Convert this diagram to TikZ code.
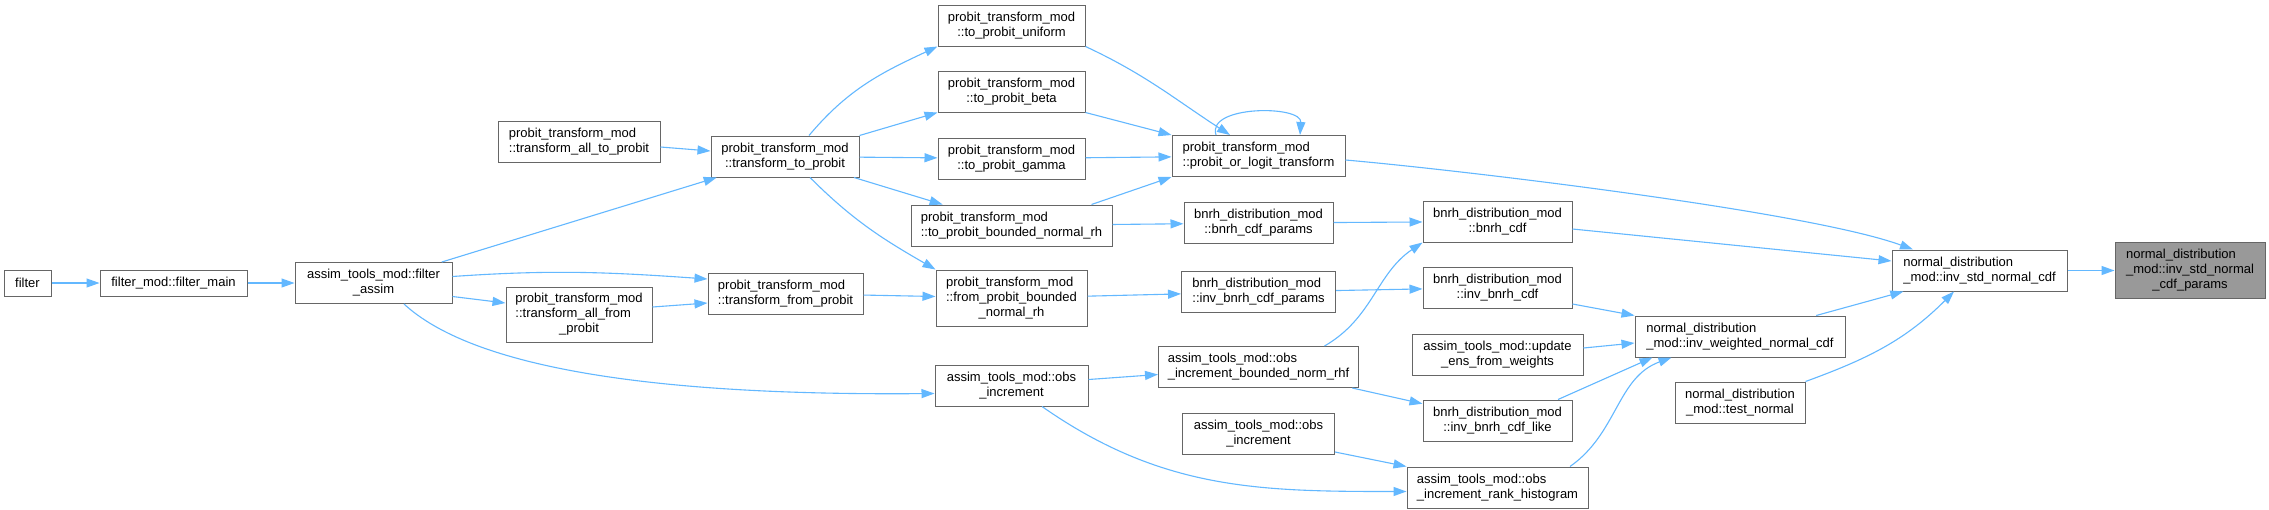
\documentclass[tikz,border=0pt]{standalone}
\usepackage{fontspec}
\setmainfont{Liberation Sans}
\usetikzlibrary{arrows.meta, positioning}

\definecolor{boxgray}{HTML}{666666}
\definecolor{focusgray}{HTML}{999999}
\definecolor{callblue}{HTML}{63B8FF}

%% graphviz style labels: all lines but the last flush left
\newsavebox\lblboxa
\newsavebox\lblboxb
\newsavebox\lblboxc
\newlength\lblwd
\newcommand\lbl[2]{%
  \setbox\lblboxa\hbox{#1}%
  \setbox\lblboxb\hbox{#2}%
  \lblwd=\wd\lblboxa\relax
  \ifdim\wd\lblboxb>\lblwd\lblwd=\wd\lblboxb\relax\fi
  \vbox{\baselineskip=15pt\lineskiplimit=-100pt
    \hbox to\lblwd{\unhcopy\lblboxa\hfil}%
    \hbox to\lblwd{\hfil\unhcopy\lblboxb\hfil}}}
\newcommand\lbll[3]{%
  \setbox\lblboxa\hbox{#1}%
  \setbox\lblboxb\hbox{#2}%
  \setbox\lblboxc\hbox{#3}%
  \lblwd=\wd\lblboxa\relax
  \ifdim\wd\lblboxb>\lblwd\lblwd=\wd\lblboxb\relax\fi
  \ifdim\wd\lblboxc>\lblwd\lblwd=\wd\lblboxc\relax\fi
  \vbox{\baselineskip=15pt\lineskiplimit=-100pt
    \hbox to\lblwd{\unhcopy\lblboxa\hfil}%
    \hbox to\lblwd{\unhcopy\lblboxb\hfil}%
    \hbox to\lblwd{\hfil\unhcopy\lblboxc\hfil}}}

\begin{document}
\begin{tikzpicture}[
  x=1pt, y=-1pt,
  node distance=24pt,
  >={Triangle[length=13pt,width=9pt]},
  func/.style={
    rectangle, draw=boxgray, fill=white,
    minimum height=41pt,
    font=\fontsize{13}{15}\selectfont,
    inner sep=1pt,
    line width=1pt
  },
  focus/.style={
    func,
    fill=focusgray,
    minimum height=56pt
  },
  arrow/.style={->, draw=callblue, line width=1.1pt}
]

\fill[white] (0,0) rectangle (2269,509);
\useasboundingbox (0,0) rectangle (2269,509);

%% Entry chain
\node[func, minimum height=26pt, minimum width=47pt] at (27.5,283) (filter) {filter};
\node[func, minimum height=26pt, minimum width=147pt, right=48pt of filter] (filtermain)
  {filter\_mod::filter\_main};
\node[func, minimum width=157pt, right=47pt of filtermain] (filterassim)
  {\lbl{assim\_tools\_mod::filter}{\_assim}};

%% Transform wrappers
\node[func, minimum width=162pt] at (579,141.5) (alltoprobit)
  {\lbl{probit\_transform\_mod}{::transform\_all\_to\_probit}};
\node[func, minimum width=146pt, minimum height=55pt] at (579,314.5) (allfromprobit)
  {\lbll{probit\_transform\_mod}{::transform\_all\_from}{\_probit}};
\node[func, minimum width=148pt] at (785,156.5) (toprobit)
  {\lbl{probit\_transform\_mod}{::transform\_to\_probit}};
\node[func, minimum width=155pt] at (785.5,293.5) (fromprobit)
  {\lbl{probit\_transform\_mod}{::transform\_from\_probit}};

%% --- Per-distribution column ---
\node[func, minimum width=147pt] at (1011.5,25.5) (uniform)
  {\lbl{probit\_transform\_mod}{::to\_probit\_uniform}};
\node[func, minimum width=147pt, below=24pt of uniform] (beta)
  {\lbl{probit\_transform\_mod}{::to\_probit\_beta}};
\node[func, minimum width=147pt, below=25pt of beta] (gamma)
  {\lbl{probit\_transform\_mod}{::to\_probit\_gamma}};
\node[func, minimum width=201pt, below=25pt of gamma] (boundedrh)
  {\lbl{probit\_transform\_mod}{::to\_probit\_bounded\_normal\_rh}};
\node[func, minimum width=151pt, minimum height=56pt, below=23pt of boundedrh] (frombounded)
  {\lbll{probit\_transform\_mod}{::from\_probit\_bounded}{\_normal\_rh}};
\node[func, minimum width=153pt, below=38pt of frombounded] (obsinc)
  {\lbl{assim\_tools\_mod::obs}{\_increment}};

%% --- Probit / bnrh column ---
\node[func, minimum width=173pt] at (1258.5,156) (pologit)
  {\lbl{probit\_transform\_mod}{::probit\_or\_logit\_transform}};
\node[func, minimum width=149pt, below=25pt of pologit] (cdfparams)
  {\lbl{bnrh\_distribution\_mod}{::bnrh\_cdf\_params}};
\node[func, minimum width=154pt, below=27pt of cdfparams] (invcdfparams)
  {\lbl{bnrh\_distribution\_mod}{::inv\_bnrh\_cdf\_params}};
\node[func, minimum width=200pt, below=33pt of invcdfparams] (bnrhf)
  {\lbl{assim\_tools\_mod::obs}{\_increment\_bounded\_norm\_rhf}};
\node[func, minimum width=152pt, below=25pt of bnrhf] (obsinc2)
  {\lbl{assim\_tools\_mod::obs}{\_increment}};

%% --- bnrh cdf column ---
\node[func, minimum width=149pt] at (1497.5,221.5) (bnrhcdf)
  {\lbl{bnrh\_distribution\_mod}{::bnrh\_cdf}};
\node[func, minimum width=149pt, below=24pt of bnrhcdf] (invbnrhcdf)
  {\lbl{bnrh\_distribution\_mod}{::inv\_bnrh\_cdf}};
\node[func, minimum width=171pt, below=25pt of invbnrhcdf] (updateens)
  {\lbl{assim\_tools\_mod::update}{\_ens\_from\_weights}};
\node[func, minimum width=149pt, below=24pt of updateens] (cdflike)
  {\lbl{bnrh\_distribution\_mod}{::inv\_bnrh\_cdf\_like}};
\node[func, minimum width=181pt, below=25pt of cdflike] (rankhist)
  {\lbl{assim\_tools\_mod::obs}{\_increment\_rank\_histogram}};

%% --- Normal distribution ---
\node[func, minimum width=210pt] at (1740,336.5) (invweighted)
  {\lbl{normal\_distribution}{\_mod::inv\_weighted\_normal\_cdf}};
\node[func, minimum width=130pt, below=24pt of invweighted] (testnormal)
  {\lbl{normal\_distribution}{\_mod::test\_normal}};
\node[func, minimum width=175pt] at (1979.5,270.5) (invstd)
  {\lbl{normal\_distribution}{\_mod::inv\_std\_normal\_cdf}};
\node[focus, minimum width=150pt, right=47pt of invstd] (target)
  {\lbll{normal\_distribution}{\_mod::inv\_std\_normal}{\_cdf\_params}};

%% --- Arrows ---
\draw[arrow] (filter) -- (filtermain);
\draw[arrow] (filtermain) -- (filterassim);
\draw[arrow] (filterassim) -- (toprobit);
\draw[arrow] ([yshift=6.5pt]filterassim.east) to[out=4,in=176] ([yshift=14.5pt]fromprobit.west);
\draw[arrow] ([yshift=-13.5pt]filterassim.east) -- ([yshift=11.5pt]allfromprobit.west);
\draw[arrow] ([xshift=30.5pt]filterassim.south) .. controls (470,365) and (640,396) .. ([yshift=-8pt]obsinc.west);

\draw[arrow] ([yshift=-5.5pt]alltoprobit.east) -- ([yshift=5.5pt]toprobit.west);
\draw[arrow] ([yshift=7.5pt]allfromprobit.east) -- ([yshift=-9.5pt]fromprobit.west);

\draw[arrow] ([xshift=24pt]toprobit.north) to[out=50,in=205] (uniform.south west);
\draw[arrow] (toprobit.north east) -- (beta.south west);
\draw[arrow] (toprobit) -- (gamma);
\draw[arrow] (toprobit) -- (boundedrh);
\draw[arrow] ([xshift=25pt]toprobit.south) to[out=-45,in=150] (frombounded.north west);
\draw[arrow] (fromprobit) -- (frombounded);

\draw[arrow] (uniform.south east) to[out=-25,in=147] ([xshift=-28.5pt]pologit.north);
\draw[arrow] (beta.south east) -- (pologit.north west);
\draw[arrow] (gamma) -- (pologit);
\draw[arrow] ([xshift=-21pt]boundedrh.north east) -- (pologit.south west);
\draw[arrow] ([xshift=-42.5pt]pologit.north) .. controls +(-10pt,30pt) and +(2pt,30pt) .. ([xshift=41.5pt]pologit.north);
\draw[arrow] (boundedrh) -- (cdfparams);
\draw[arrow] (frombounded) -- (invcdfparams);

\draw[arrow] (cdfparams) -- (bnrhcdf);
\draw[arrow] (invcdfparams) -- (invbnrhcdf);
\draw[arrow] ([xshift=66pt]bnrhf.north) to[out=30,in=214] (bnrhcdf.south west);
\draw[arrow] ([yshift=6pt]obsinc.east) -- ([yshift=-7.5pt]bnrhf.west);
\draw[arrow] ([xshift=30.5pt]obsinc.south) to[out=-35,in=180] ([yshift=-4pt]rankhist.west);
\draw[arrow] ([yshift=3pt]obsinc2.south east) -- (rankhist.north west);
\draw[arrow] (bnrhf) -- (cdflike);

\draw[arrow] ([yshift=-4pt]pologit.east) to[out=-5,in=160,looseness=0.5] ([xshift=-66.5pt]invstd.north);
\draw[arrow] ([yshift=-7.5pt]bnrhcdf.east) -- ([yshift=9.5pt]invstd.west);
\draw[arrow] ([yshift=-16.5pt]invbnrhcdf.east) -- (invweighted.north west);
\draw[arrow] ([yshift=6.5pt]updateens.east) -- ([yshift=-6.5pt]invweighted.west);
\draw[arrow] ([xshift=60.5pt]cdflike.north) -- ([xshift=18pt]invweighted.south west);
\draw[arrow] ([xshift=72.5pt]rankhist.north) to[out=35,in=200] ([xshift=37pt]invweighted.south west);
\draw[arrow] (invweighted) -- (invstd);
\draw[arrow] (testnormal.north east) to[out=20,in=225] ([xshift=-25.5pt]invstd.south);
\draw[arrow] (invstd) -- (target);

\end{tikzpicture}
\end{document}
